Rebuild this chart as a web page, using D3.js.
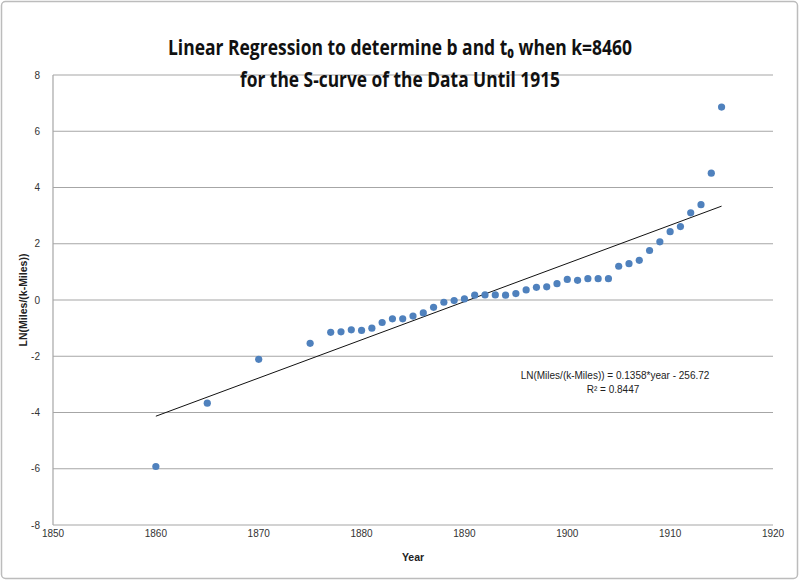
<!DOCTYPE html>
<html lang="en">
<head>
<meta charset="UTF-8">
<script src="https://d3js.org/d3.v7.min.js"></script>
<title>Linear Regression S-curve</title>
<style>
    body { margin: 0; background: #fff; font-family: "Liberation Sans", Arial, sans-serif; }
    svg { display: block; }
</style>
</head>
<body>
<svg id="chart" width="800" height="581"></svg>
<script>
    const years = [1860, 1865, 1870, 1875, 1877, 1878, 1879, 1880, 1881, 1882, 1883, 1884, 1885,
        1886, 1887, 1888, 1889, 1890, 1891, 1892, 1893, 1894, 1895, 1896, 1897, 1898, 1899,
        1900, 1901, 1902, 1903, 1904, 1905, 1906, 1907, 1908, 1909, 1910, 1911, 1912, 1913, 1914, 1915];
    const lnValues = [-5.92, -3.67, -2.11, -1.54, -1.15, -1.13, -1.06, -1.08, -1.00, -0.80, -0.67, -0.67, -0.57,
        -0.46, -0.26, -0.08, -0.02, 0.04, 0.17, 0.18, 0.18, 0.17, 0.23, 0.36, 0.45, 0.47, 0.58,
        0.73, 0.70, 0.76, 0.76, 0.76, 1.20, 1.29, 1.41, 1.76, 2.07, 2.43, 2.61, 3.10, 3.39, 4.51, 6.86];
    const xTicks = [1850, 1860, 1870, 1880, 1890, 1900, 1910, 1920];
    const yTicks = [-8, -6, -4, -2, 0, 2, 4, 6, 8];
    const slope = 0.1358;
    const intercept = -256.72;
    const rSquared = "0.8447";

    const svg = d3.select("#chart");

    // chart border
    svg.append("rect")
        .attr("x", 1.5).attr("y", 1.5)
        .attr("width", 796).attr("height", 577)
        .attr("rx", 4)
        .attr("fill", "#fff")
        .attr("stroke", "#bcbcbc")
        .attr("stroke-width", 1.5);

    const x = d3.scaleLinear().domain([1850, 1920]).range([53, 773]);
    const y = d3.scaleLinear().domain([-8, 8]).range([525, 75]);

    // gridlines
    svg.append("g").selectAll("line")
        .data(yTicks)
        .enter().append("line")
        .attr("x1", x(1850)).attr("x2", x(1920))
        .attr("y1", d => y(d)).attr("y2", d => y(d))
        .attr("stroke", "#a6a6a6")
        .attr("stroke-width", 1.2);

    // left axis line
    svg.append("line")
        .attr("x1", x(1850)).attr("x2", x(1850))
        .attr("y1", y(8)).attr("y2", y(-8))
        .attr("stroke", "#a6a6a6")
        .attr("stroke-width", 1.2);

    // tick labels
    svg.append("g").selectAll("text")
        .data(yTicks)
        .enter().append("text")
        .attr("x", 40)
        .attr("y", d => y(d) + 3.5)
        .attr("text-anchor", "end")
        .style("font-size", "10px")
        .style("fill", "#333")
        .text(d => d);

    svg.append("g").selectAll("text")
        .data(xTicks)
        .enter().append("text")
        .attr("x", d => x(d))
        .attr("y", 537)
        .attr("text-anchor", "middle")
        .style("font-size", "10px")
        .style("fill", "#333")
        .text(d => d);

    // trend line
    const trendYears = [d3.min(years), d3.max(years)];
    svg.append("line")
        .attr("x1", x(trendYears[0])).attr("y1", y(slope * trendYears[0] + intercept))
        .attr("x2", x(trendYears[1])).attr("y2", y(slope * trendYears[1] + intercept))
        .attr("stroke", "#111")
        .attr("stroke-width", 1);

    // points
    svg.append("g").selectAll("circle")
        .data(years.map((yr, i) => [yr, lnValues[i]]))
        .enter().append("circle")
        .attr("cx", d => x(d[0]))
        .attr("cy", d => y(d[1]))
        .attr("r", 3.6)
        .attr("fill", "#4f81bd");

    // title
    const title = svg.append("g")
        .style("font-family", "'Open Sans', 'DejaVu Sans', sans-serif")
        .style("font-weight", "bold")
        .style("fill", "#111");
    title.append("text")
        .attr("x", 400).attr("y", 55)
        .attr("text-anchor", "middle")
        .attr("textLength", 464)
        .attr("lengthAdjust", "spacingAndGlyphs")
        .style("font-size", "22px")
        .text("Linear Regression to determine b and t\u2080 when k=8460");
    title.append("text")
        .attr("x", 400).attr("y", 87)
        .attr("text-anchor", "middle")
        .attr("textLength", 320)
        .attr("lengthAdjust", "spacingAndGlyphs")
        .style("font-size", "22px")
        .text("for the S-curve of the Data Until 1915");

    // axis titles
    svg.append("text")
        .attr("x", 413).attr("y", 561)
        .attr("text-anchor", "middle")
        .style("font-size", "10.5px")
        .style("font-weight", "bold")
        .style("fill", "#222")
        .text("Year");
    svg.append("text")
        .attr("transform", "translate(27,300) rotate(-90)")
        .attr("text-anchor", "middle")
        .style("font-size", "10.5px")
        .style("font-weight", "bold")
        .style("fill", "#222")
        .text("LN(Miles/(k-Miles))");

    // equation
    svg.append("text")
        .attr("x", 615).attr("y", 379)
        .attr("text-anchor", "middle")
        .style("font-size", "10px")
        .style("fill", "#222")
        .text(`LN(Miles/(k-Miles)) = ${slope}*year - ${Math.abs(intercept)}`);
    svg.append("text")
        .attr("x", 613).attr("y", 393)
        .attr("text-anchor", "middle")
        .style("font-size", "10px")
        .style("fill", "#222")
        .text(`R\u00b2 = ${rSquared}`);
</script>
</body>
</html>
